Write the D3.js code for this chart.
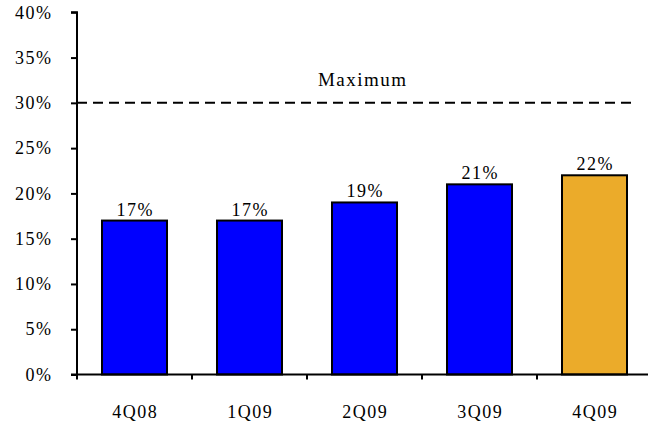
<!DOCTYPE html>
<html>
<head>
<meta charset="utf-8">
<script src="https://cdn.jsdelivr.net/npm/d3@7/dist/d3.min.js"></script>
<style>
  html, body { margin: 0; padding: 0; background: #fff; }
  svg { display: block; font-family: "Liberation Serif", "Times New Roman", serif; }
</style>
</head>
<body>
<svg id="chart" width="648" height="426"></svg>
<script>
// Quarterly ratio, in percent
const quarters = ["4Q08", "1Q09", "2Q09", "3Q09", "4Q09"];
const ratios = [17, 17, 19, 21, 22];
const barColors = ["#0000ff", "#0000ff", "#0000ff", "#0000ff", "#ebab2a"];
const yTicks = [0, 5, 10, 15, 20, 25, 30, 35, 40];
const maxLimit = 30;
const maxLabel = "Maximum";

const svg = d3.select("#chart");
const plotLeft = 77, plotRight = 652, plotTop = 12.3, plotBottom = 374.5;
const fontSize = 18, spacing = 1.5;

const x = d3.scaleBand().domain(quarters).range([plotLeft, plotRight]).paddingInner(0).paddingOuter(0);
const y = d3.scaleLinear().domain([0, 40]).range([plotBottom, plotTop]);
const barW = 65;

// Bars
svg.append("g").selectAll("rect")
  .data(quarters)
  .join("rect")
  .attr("x", (d) => x(d) + (x.bandwidth() - barW) / 2)
  .attr("y", (d, i) => y(ratios[i]))
  .attr("width", barW)
  .attr("height", (d, i) => y(0) - y(ratios[i]))
  .attr("fill", (d, i) => barColors[i])
  .attr("stroke", "#000")
  .attr("stroke-width", 2);

// Value labels
svg.append("g").selectAll("text")
  .data(quarters)
  .join("text")
  .attr("x", (d) => x(d) + x.bandwidth() / 2 + spacing / 2)
  .attr("y", (d, i) => y(ratios[i]) - 5)
  .attr("text-anchor", "middle")
  .attr("font-size", fontSize)
  .attr("letter-spacing", spacing)
  .text((d, i) => ratios[i] + "%");

// Maximum line
svg.append("line")
  .attr("x1", plotLeft).attr("x2", 633)
  .attr("y1", y(maxLimit)).attr("y2", y(maxLimit))
  .attr("stroke", "#000")
  .attr("stroke-width", 2)
  .attr("stroke-dasharray", "10,6");
svg.append("text")
  .attr("x", 362 + spacing / 2).attr("y", y(maxLimit) - 16.4)
  .attr("text-anchor", "middle")
  .attr("font-size", 19)
  .attr("letter-spacing", spacing)
  .text(maxLabel);

// Y axis
const yAxis = d3.axisLeft(y).tickValues(yTicks).tickFormat((d) => d + "%").tickSize(6).tickPadding(18.5);
const gy = svg.append("g").attr("transform", `translate(${plotLeft},0)`).call(yAxis);
gy.select(".domain").attr("stroke", "#000").attr("stroke-width", 2).attr("d", `M-6,${plotTop}H0V${plotBottom}H-6`);
gy.selectAll(".tick line").attr("stroke", "#000").attr("stroke-width", 2);
gy.selectAll(".tick text")
  .attr("font-size", fontSize).attr("letter-spacing", spacing)
  .attr("font-family", "Liberation Serif").attr("fill", "#000");

// X axis
const xAxis = d3.axisBottom(x).tickSize(0).tickPadding(30.4);
const gx = svg.append("g").attr("transform", `translate(0,${plotBottom})`).call(xAxis);
gx.select(".domain").attr("stroke", "#000").attr("stroke-width", 2).attr("d", `M${plotLeft},0H${plotRight}`);
gx.selectAll(".tick text")
  .attr("font-size", fontSize).attr("letter-spacing", spacing)
  .attr("x", spacing / 2)
  .attr("font-family", "Liberation Serif").attr("fill", "#000");
// Category separators
gx.append("g").selectAll("line")
  .data(quarters)
  .join("line")
  .attr("x1", (d) => x(d)).attr("x2", (d) => x(d))
  .attr("y1", 0).attr("y2", 5)
  .attr("stroke", "#000").attr("stroke-width", 2);
</script>
</body>
</html>
